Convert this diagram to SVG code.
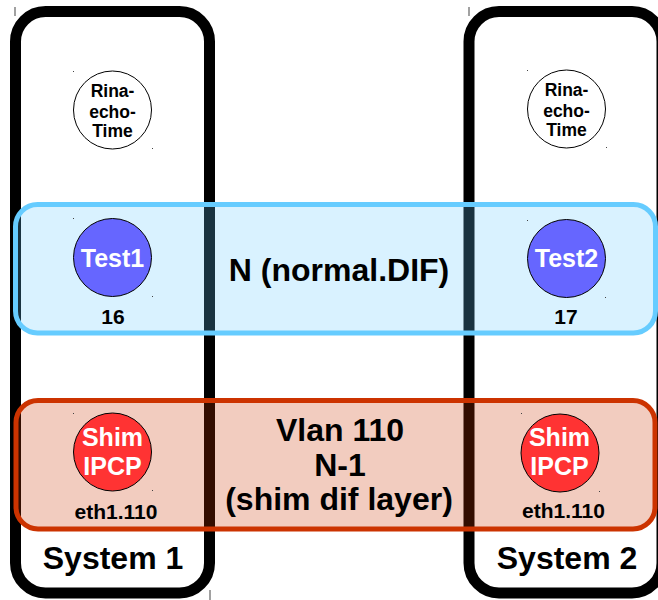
<svg xmlns="http://www.w3.org/2000/svg" width="658" height="600" viewBox="0 0 658 600">
  <style>
    .sys { fill: #ffffff; stroke: #000000; stroke-width: 11; }
    .band-n { fill: #66ccff; fill-opacity: 0.25; stroke: #66ccff; stroke-width: 5; }
    .band-shim { fill: #cc3300; fill-opacity: 0.25; stroke: #cc3300; stroke-width: 5; }
    .app { fill: #ffffff; stroke: #000000; stroke-width: 1; }
    .ipcp { fill: #6666ff; stroke: #000000; stroke-width: 1; }
    .shim { fill: #ff3333; stroke: #000000; stroke-width: 1; }
    text { font-family: "Liberation Sans", Arial, sans-serif; font-weight: bold; text-anchor: middle; }
    .t-app { font-size: 17.5px; fill: #000000; }
    .t-in { font-size: 25px; fill: #ffffff; }
    .t-sub { font-size: 21px; fill: #000000; }
    .t-big { font-size: 32px; fill: #000000; }
    .t-sys { font-size: 32px; fill: #000000; }
    .mark { fill: #444444; }
  </style>

  <!-- system containers -->
  <g id="system1">
    <rect class="sys" x="15.5" y="11.5" width="194" height="581.5" rx="30" ry="30"/>
    <text class="t-sys" x="113" y="569">System 1</text>
  </g>
  <g id="system2">
    <rect class="sys" x="469" y="11.5" width="193" height="581.5" rx="30" ry="30"/>
    <text class="t-sys" x="567" y="569">System 2</text>
  </g>

  <!-- DIF layers, translucent over the system borders -->
  <g id="normal-dif">
    <rect class="band-n" x="15.5" y="204.5" width="640" height="128.5" rx="22" ry="22"/>
    <text class="t-big" x="339" y="281">N (normal.DIF)</text>
  </g>
  <g id="shim-dif">
    <rect class="band-shim" x="16" y="400.5" width="639" height="128.5" rx="22" ry="22"/>
    <text class="t-big" x="340" y="441">Vlan 110</text>
    <text class="t-big" x="340" y="476">N-1</text>
    <text class="t-big" x="339" y="510">(shim dif layer)</text>
  </g>

  <!-- applications -->
  <g id="rina-echo-time-1">
    <circle class="app" cx="112.5" cy="110" r="39"/>
    <text class="t-app" x="112.5" y="97">Rina-</text>
    <text class="t-app" x="112.5" y="118">echo-</text>
    <text class="t-app" x="112.5" y="137">Time</text>
  </g>
  <g id="rina-echo-time-2">
    <circle class="app" cx="566.5" cy="109" r="39"/>
    <text class="t-app" x="566.5" y="96">Rina-</text>
    <text class="t-app" x="566.5" y="117">echo-</text>
    <text class="t-app" x="566.5" y="136">Time</text>
  </g>

  <!-- normal IPC processes -->
  <g id="test1">
    <circle class="ipcp" cx="112.5" cy="257.5" r="39"/>
    <text class="t-in" x="112.5" y="267">Test1</text>
    <text class="t-sub" x="113" y="324">16</text>
  </g>
  <g id="test2">
    <circle class="ipcp" cx="566.5" cy="258.5" r="39"/>
    <text class="t-in" x="566.5" y="267">Test2</text>
    <text class="t-sub" x="566" y="324">17</text>
  </g>

  <!-- shim IPC processes -->
  <g id="shim-ipcp-1">
    <circle class="shim" cx="112.5" cy="452" r="39"/>
    <text class="t-in" x="112.5" y="446">Shim</text>
    <text class="t-in" x="112.5" y="475">IPCP</text>
    <text class="t-sub" x="116" y="519">eth1.110</text>
  </g>
  <g id="shim-ipcp-2">
    <circle class="shim" cx="560" cy="453" r="39"/>
    <text class="t-in" x="559.5" y="446">Shim</text>
    <text class="t-in" x="559.5" y="475">IPCP</text>
    <text class="t-sub" x="563.5" y="518">eth1.110</text>
  </g>

  <!-- small anchor marks -->
  <g id="marks">
    <rect class="mark" x="14.5" y="7" width="1" height="9"/>
    <rect class="mark" x="468.5" y="7" width="1" height="9"/>
    <rect class="mark" x="209.5" y="590" width="1" height="10"/>
    <rect class="mark" x="73" y="71" width="1" height="1"/>
    <rect class="mark" x="152" y="148" width="1" height="1"/>
    <rect class="mark" x="527" y="70" width="1" height="1"/>
    <rect class="mark" x="606" y="147" width="1" height="1"/>
    <rect class="mark" x="73" y="218" width="1" height="1"/>
    <rect class="mark" x="152" y="296" width="1" height="1"/>
    <rect class="mark" x="527" y="220" width="1" height="1"/>
    <rect class="mark" x="605" y="297" width="1" height="1"/>
    <rect class="mark" x="73" y="413" width="1" height="1"/>
    <rect class="mark" x="152" y="490" width="1" height="1"/>
    <rect class="mark" x="521" y="413" width="1" height="1"/>
    <rect class="mark" x="599" y="491" width="1" height="1"/>
  </g>
</svg>
